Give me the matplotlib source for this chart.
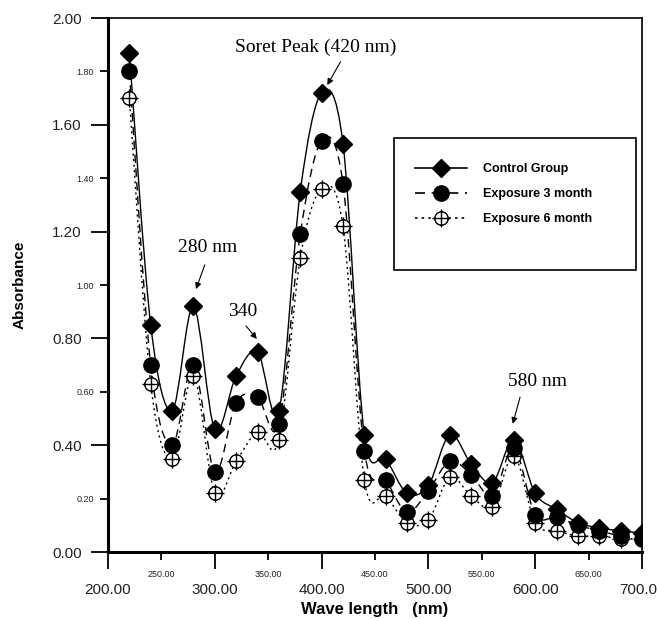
import numpy as np
import matplotlib
matplotlib.use("Agg")
import matplotlib.pyplot as plt
from matplotlib.path import Path
from matplotlib.patches import PathPatch, Rectangle
from matplotlib.lines import Line2D

wave = [220, 240, 260, 280, 300, 320, 340, 360, 380, 400, 420, 440, 460,
        480, 500, 520, 540, 560, 580, 600, 620, 640, 660, 680, 700]
control = [1.87, 0.85, 0.53, 0.92, 0.46, 0.66, 0.75, 0.53, 1.35, 1.72, 1.53,
           0.44, 0.35, 0.22, 0.25, 0.44, 0.33, 0.26, 0.42, 0.22, 0.16, 0.11,
           0.09, 0.08, 0.07]
exp3 = [1.80, 0.70, 0.40, 0.70, 0.30, 0.56, 0.58, 0.48, 1.19, 1.54, 1.38,
        0.38, 0.27, 0.15, 0.23, 0.34, 0.29, 0.21, 0.39, 0.14, 0.13, 0.10,
        0.08, 0.06, 0.05]
exp6 = [1.70, 0.63, 0.35, 0.66, 0.22, 0.34, 0.45, 0.42, 1.10, 1.36, 1.22,
        0.27, 0.21, 0.11, 0.12, 0.28, 0.21, 0.17, 0.36, 0.11, 0.08, 0.06,
        0.06, 0.05, 0.05]
names = ["Control Group", "Exposure 3 month", "Exposure 6 month"]


def smooth_path(x, y):
    # catmull-rom through the points, as bezier segments
    p = np.column_stack([x, y]).astype(float)
    ext = np.vstack([p[0], p, p[-1]])
    verts = [p[0]]
    codes = [Path.MOVETO]
    for i in range(len(p) - 1):
        p0, p1, p2, p3 = ext[i], ext[i + 1], ext[i + 2], ext[i + 3]
        verts += [p1 + (p2 - p0) / 6, p2 - (p3 - p1) / 6, p2]
        codes += [Path.CURVE4] * 3
    return Path(verts, codes)


# open circle with a cross through it
cross = Path.make_compound_path(
    Path.unit_circle(),
    Path([[-1.35, 0], [1.35, 0]], [Path.MOVETO, Path.LINETO]),
    Path([[0, -1.35], [0, 1.35]], [Path.MOVETO, Path.LINETO]))

fig = plt.figure(figsize=(6.57, 6.19), dpi=100)
ax = fig.add_axes([0.1644, 0.1082, 0.8128, 0.8627])

styles = [
    (control, "-", dict(marker="D", ms=9, mfc="black", mec="black")),
    (exp3, (0, (6, 4)), dict(marker="o", ms=11, mfc="black", mec="black")),
    (exp6, (0, (1.5, 2.5)), dict(marker=cross, ms=13, mfc="white", mec="black", mew=1.0)),
]
handles = []
for z, (vals, ls, mk) in zip([5, 4, 3], styles):
    ax.add_patch(PathPatch(smooth_path(wave, vals), fill=False, ec="black",
                           lw=1.0, ls=ls, zorder=z - 1))
    ax.plot(wave, vals, ls="none", zorder=z + 3, **mk)
    handles.append(Line2D([], [], color="black", lw=1.2, ls=ls, **mk))

ax.set_xlim(200, 700)
ax.set_ylim(0, 2.0)
ax.set_xticks(np.arange(200, 701, 100))
ax.set_xticks(np.arange(250, 700, 100), minor=True)
ax.set_yticks(np.arange(0, 2.01, 0.4))
ax.set_yticks(np.arange(0.2, 2.0, 0.4), minor=True)
ax.set_xticklabels(["%.2f" % v for v in np.arange(200, 701, 100)])
ax.set_xticklabels(["%.2f" % v for v in np.arange(250, 700, 100)], minor=True)
ax.set_yticklabels(["%.2f" % v for v in np.arange(0, 2.01, 0.4)])
ax.set_yticklabels(["%.2f" % v for v in np.arange(0.2, 2.0, 0.4)], minor=True)

ax.tick_params(which="major", direction="out", length=12, width=1.3,
               labelsize=11, pad=7, labelfontfamily="Liberation Sans",
               labelcolor="#222222")
ax.tick_params(which="minor", direction="out", length=6, width=1.3,
               labelsize=6.5, pad=4, labelfontfamily="Liberation Sans",
               labelcolor="#222222")
ax.tick_params(axis="x", which="major", pad=10)
ax.tick_params(axis="x", which="minor", pad=7)
ax.tick_params(top=False, right=False)

for side in ["left", "bottom"]:
    ax.spines[side].set_linewidth(2.2)
for side in ["top", "right"]:
    ax.spines[side].set_linewidth(1.2)

ax.set_xlabel("Wave length   (nm)", fontsize=12, fontweight="bold",
              family="Liberation Sans", labelpad=4)
ax.set_ylabel("Absorbance", fontsize=11, fontweight="bold",
              family="Liberation Sans", labelpad=18)

serif = dict(family="Liberation Serif", fontsize=14, ha="center", va="center")
arrow = dict(arrowstyle="-|>", color="black", lw=0.8, mutation_scale=9)
ax.text(394.8, 1.89, "Soret Peak (420 nm)", **serif)
ax.annotate("", xy=(404, 1.74), xytext=(419, 1.845), arrowprops=arrow)
ax.text(293.6, 1.142, "280 nm", **serif)
ax.annotate("", xy=(281.5, 0.975), xytext=(291.5, 1.085), arrowprops=arrow)
ax.text(326.4, 0.899, "340", **serif)
ax.annotate("", xy=(341, 0.79), xytext=(327.5, 0.855), arrowprops=arrow)
ax.text(602.6, 0.637, "580 nm", **serif)
ax.annotate("", xy=(578.3, 0.47), xytext=(586.5, 0.59), arrowprops=arrow)

ax.add_patch(Rectangle((0.5356, 0.528), 0.4532, 0.247, transform=ax.transAxes,
                       fill=False, ec="black", lw=1.2, zorder=10))
ax.legend(handles, names, loc="upper left", bbox_to_anchor=(0.565, 0.738),
          frameon=False, handlelength=4.2, handletextpad=1.3,
          labelspacing=1.05, borderaxespad=0,
          prop=dict(family="Liberation Sans", size=9, weight="bold"))

fig.savefig("out.png", dpi=100)
